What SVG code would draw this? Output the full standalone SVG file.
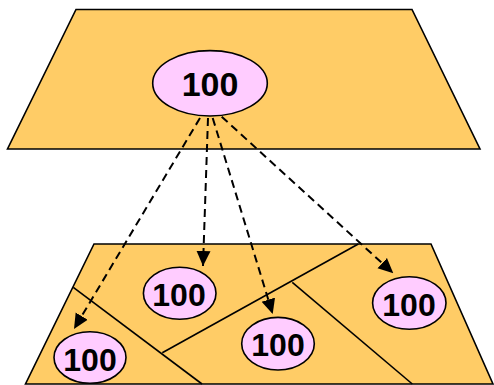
<svg xmlns="http://www.w3.org/2000/svg" width="494" height="385" viewBox="0 0 494 385">
  <style>
    .plane { fill: #FFCC66; stroke: #000; stroke-width: 1.6; stroke-linejoin: miter; }
    .cut { fill: none; stroke: #000; stroke-width: 1.6; }
    .node ellipse { fill: #FFCCFF; stroke: #000; stroke-width: 1.6; }
    .node text { font-family: "Liberation Sans", Arial, sans-serif; font-weight: bold; font-size: 32px; fill: #000; text-anchor: middle; }
    .node text.big { font-size: 34px; }
    .edge { fill: none; stroke: #000; stroke-width: 2; stroke-dasharray: 8 5; marker-end: url(#head); }
  </style>
  <defs>
    <marker id="head" markerUnits="userSpaceOnUse" markerWidth="15" markerHeight="15" viewBox="0 0 15 15" refX="15" refY="7.5" orient="auto">
      <path d="M0,0.5 L15,7.5 L0,14.5 Z" fill="#000"/>
    </marker>
  </defs>

  <!-- upper plane -->
  <polygon class="plane" points="76,9.5 412,9.5 480,149 7.5,149"/>

  <!-- lower plane with its partition lines -->
  <g id="lower-plane">
    <polygon class="plane" points="94,244 431,244 493,384 25.5,384"/>
    <line class="cut" x1="73.3" y1="287.3" x2="202" y2="384"/>
    <line class="cut" x1="162.3" y1="352.7" x2="358.3" y2="244"/>
    <line class="cut" x1="292.3" y1="282.3" x2="412.3" y2="384"/>
  </g>

  <!-- connectors -->
  <g id="edges">
    <line class="edge" x1="200" y1="118" x2="74" y2="329"/>
    <line class="edge" x1="208" y1="118" x2="203" y2="266"/>
    <line class="edge" x1="212.7" y1="118" x2="272.7" y2="314"/>
    <line class="edge" x1="221.7" y1="116.7" x2="393.3" y2="273.3"/>
  </g>

  <!-- nodes -->
  <g id="n-top" class="node">
    <ellipse cx="210" cy="83.3" rx="57.3" ry="32.7"/>
    <text class="big" x="210" y="95.7">100</text>
  </g>
  <g id="n-a" class="node">
    <ellipse cx="179.7" cy="293.3" rx="36.3" ry="26"/>
    <text x="179" y="305.6">100</text>
  </g>
  <g id="n-b" class="node">
    <ellipse cx="90" cy="357.5" rx="36" ry="25.8"/>
    <text x="90" y="370.6">100</text>
  </g>
  <g id="n-c" class="node">
    <ellipse cx="278" cy="343.7" rx="36.3" ry="26.3"/>
    <text x="278" y="355.6">100</text>
  </g>
  <g id="n-d" class="node">
    <ellipse cx="409.3" cy="303" rx="36.7" ry="26.3"/>
    <text x="409" y="315.6">100</text>
  </g>
</svg>
